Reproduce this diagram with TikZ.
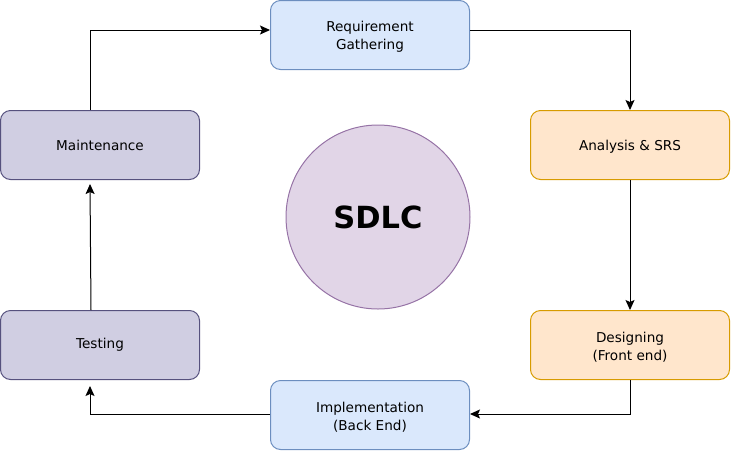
\documentclass[tikz,border=0pt]{standalone}
\usepackage{fontspec}
\setmainfont{DejaVu Sans}
\usetikzlibrary{arrows.meta}
\definecolor{bluefill}{HTML}{DAE8FC}
\definecolor{bluedraw}{HTML}{6C8EBF}
\definecolor{orfill}{HTML}{FFE6CC}
\definecolor{ordraw}{HTML}{D79B00}
\definecolor{pufill}{HTML}{D0CEE2}
\definecolor{pudraw}{HTML}{56517E}
\definecolor{cifill}{HTML}{E1D5E7}
\definecolor{cidraw}{HTML}{9673A6}
\newcommand{\tstrut}{\rule{0pt}{14pt}}
\tikzset{
  phase/.style={rectangle, rounded corners=10pt, minimum width=199pt, minimum height=69pt,
    line width=1pt, align=center, font=\fontsize{13.6}{18}\selectfont, inner sep=0pt},
  bluebox/.style={phase, fill=bluefill, draw=bluedraw},
  orbox/.style={phase, fill=orfill, draw=ordraw},
  pubox/.style={phase, fill=pufill, draw=pudraw},
  flow/.style={line width=1pt, -{Stealth[length=10pt,width=9pt,inset=2pt]}}
}
\begin{document}
\begin{tikzpicture}[x=1pt,y=-1pt]
\useasboundingbox (0,0) rectangle (731,451);
\node[bluebox] (req) at (370,35) {\tstrut Requirement\\Gathering};
\node[orbox] (ana) at (630,145) {\tstrut Analysis \& SRS};
\node[orbox] (des) at (630,345) {\tstrut Designing\\(Front end)};
\node[bluebox] (imp) at (370,415) {\tstrut Implementation\\(Back End)};
\node[pubox] (tes) at (100,345) {Testing};
\node[pubox] (mai) at (100,145) {Maintenance};
\node[circle, minimum size=184pt, inner sep=0pt, fill=cifill, draw=cidraw, line width=1pt,
  font=\fontsize{30.5}{36}\selectfont\bfseries] (sdlc) at (378,217) {SDLC};
\coordinate (m1) at (90,110);
\coordinate (m2) at (90,30);
\coordinate (r1) at (470,30);
\coordinate (a1) at (630,30);
\coordinate (d1) at (630,414);
\coordinate (i1) at (90,414);
\coordinate (t1) at (90,386);
\coordinate (t0) at (91,310);
\coordinate (mb) at (90,184);
\draw[flow] (m1) -- (m2) -- (req.west |- m2);
\draw[flow] (r1) -- (a1) -- (ana.north);
\draw[flow] (ana.south) -- (des.north);
\draw[flow] (des.south) -- (d1) -- (imp.east |- d1);
\draw[flow] (imp.west |- d1) -- (i1) -- (t1);
\draw[flow] (t0) -- (mb);
\end{tikzpicture}
\end{document}
